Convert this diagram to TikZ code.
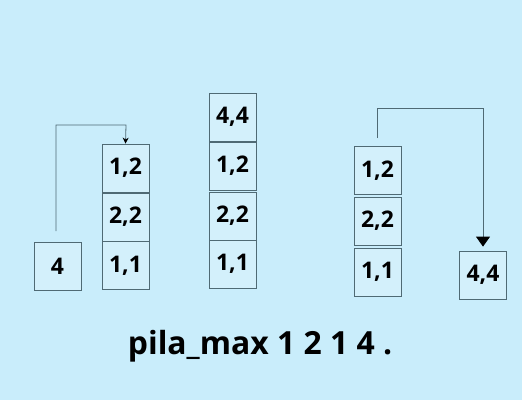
\documentclass[tikz,border=0pt]{standalone}
\usepackage{fontspec}
\setmainfont{Open Sans}
\usetikzlibrary{arrows.meta}
\definecolor{bg}{HTML}{C9EDFB}
\definecolor{boxfill}{HTML}{D3F0FB}
\definecolor{edge}{HTML}{4F6A74}
\begin{document}
\begin{tikzpicture}[x=1bp,y=1bp,
  cell/.style={draw=edge,fill=boxfill,line width=0.8bp,minimum width=47bp,minimum height=48bp,inner sep=0pt,font=\fontsize{23}{23}\selectfont\bfseries,text=black},
  link/.style={draw=edge,line width=0.8bp}]
\fill[bg] (0,0) rectangle (522,400);
\useasboundingbox (0,0) rectangle (522,400);
% left group
\node[cell] (four) at (57.5,133.5) {4};
\node[cell] (l3) at (125.5,232) {1,2};
\node[cell] (l2) at (125.5,183) {2,2};
\node[cell] (l1) at (125.5,134.5) {1,1};
\coordinate (la) at (56,169);
\draw[link,-{Stealth[length=6bp,width=6bp,color=black]}] (la) |- (126,275) -- (l3.north);
% middle stack
\node[cell] (m4) at (232.5,283) {4,4};
\node[cell] (m3) at (232.5,234) {1,2};
\node[cell] (m2) at (232.5,184) {2,2};
\node[cell] (m1) at (232.5,136) {1,1};
% right group
\node[cell] (r3) at (377.5,229.5) {1,2};
\node[cell] (r2) at (377.5,179) {2,2};
\node[cell] (r1) at (377.5,128) {1,1};
\node[cell] (r4) at (483,125) {4,4};
\coordinate (ra) at (377,262);
\draw[link,-{Triangle[length=10bp,width=14bp,color=black]}] (ra) |- (483,292) -- ([yshift=4bp]r4.north);
% title
\node[font=\fontsize{32}{32}\selectfont\bfseries,text=black] (title) at (260,54) {pila\_max 1 2 1 4 .};
\end{tikzpicture}
\end{document}
